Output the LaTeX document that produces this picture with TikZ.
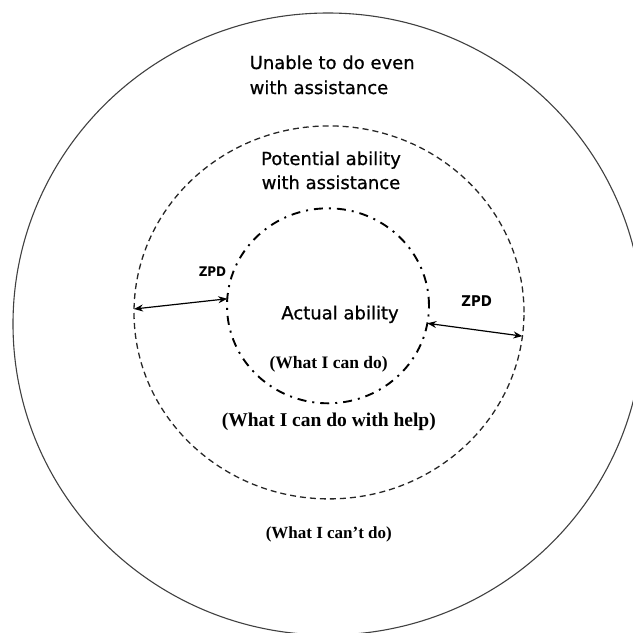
\documentclass[tikz,border=0pt]{standalone}
\usepackage{fontspec}
\usetikzlibrary{shapes.geometric,arrows.meta}
\newfontfamily\sanslab[FakeBold=0.8]{DejaVu Sans}
\newfontfamily\zpdlab{DejaVu Sans Condensed Bold}
\newfontfamily\seriflab{Liberation Serif}
\begin{document}
\begin{tikzpicture}[x=1pt,y=-1pt,
  zone/.style={ellipse,inner sep=0pt,outer sep=0pt},
  bigtext/.style={inner sep=0pt,font=\sanslab\fontsize{18}{21}\selectfont},
  zpdtext/.style={inner sep=0pt,font=\zpdlab\fontsize{#1}{#1}\selectfont},
  notetext/.style={inner sep=0pt,font=\seriflab\bfseries\fontsize{#1}{#1}\selectfont},
  span/.style={<->,line width=1.2pt,
    >={Stealth[length=9pt,width=7pt]}}]
\useasboundingbox (0,0) rectangle (633,633);
\begin{scope}
  \clip (0,0) rectangle (633,633);
  % outer region: what cannot be done
  \draw[line width=1.1pt,black!75] (328,324) ellipse [x radius=315pt, y radius=311pt];
\end{scope}
% zone of proximal development boundary
\node[zone,draw=black!85,line width=1.3pt,dash pattern=on 6pt off 4pt,
  minimum width=390pt,minimum height=373pt] (help) at (329,312.4) {};
% actual ability boundary
\node[zone,draw=black,line width=1.9pt,
  dash pattern=on 9pt off 6pt on 2pt off 6pt,
  minimum width=202pt,minimum height=195pt] (can) at (328,305.8) {};

% labels
\node[bigtext,anchor=base west] (unable1) at (249.5,69) {Unable to do even};
\node[bigtext,anchor=base west] (unable2) at (249.5,94) {with assistance};
\node[bigtext,anchor=base] (pot1) at (331,165) {Potential ability};
\node[bigtext,anchor=base] (pot2) at (331,189) {with assistance};
\node[bigtext,anchor=base] (actual) at (340,319.3) {Actual ability};
\node[notetext=17.5,anchor=base] (cando) at (328.7,368.3) {(What I can do)};
\node[notetext=19.5,anchor=base] (withhelp) at (328.8,426.7) {(What I can do with help)};
\node[notetext=17,anchor=base] (cannot) at (328.8,538.3) {(What I can’t do)};
\node[zpdtext=13.3,anchor=base] (zpdl) at (212.5,276.7) {ZPD};
\node[zpdtext=14.8,anchor=base] (zpdr) at (476.7,306) {ZPD};

% ZPD width arrows
\draw[span] (help.179) -- (can.176);
\draw[span] (can.-10) -- (help.-7.5);
\end{tikzpicture}
\end{document}
